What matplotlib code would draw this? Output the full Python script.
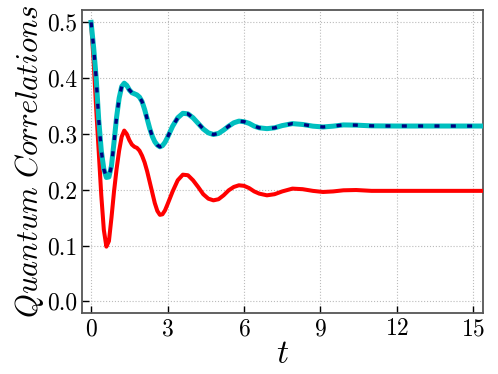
import numpy as np
import matplotlib.pyplot as plt

plt.rcParams['mathtext.fontset'] = 'cm'
plt.rcParams['font.family'] = 'serif'
plt.rcParams['font.serif'] = ['cmr10']
plt.rcParams['axes.formatter.use_mathtext'] = True

# ==== Daten ====
t = [0.0, 0.1, 0.2, 0.3, 0.4, 0.5, 0.6, 0.7, 0.8, 0.9, 1.0, 1.1, 1.2, 1.3,
     1.4, 1.5, 1.6, 1.7, 1.8, 1.9, 2.0, 2.1, 2.2, 2.3, 2.4, 2.5, 2.6, 2.7,
     2.8, 2.9, 3.0, 3.2, 3.4, 3.6, 3.8, 4.0, 4.2, 4.4, 4.6, 4.8, 5.0, 5.2,
     5.4, 5.6, 5.8, 6.0, 6.2, 6.4, 6.6, 6.9, 7.2, 7.5, 7.9, 8.3, 8.7, 9.1,
     9.5, 9.9, 10.4, 11.0, 12.0, 13.0, 14.0, 15.0, 15.5]

qc_cyan = [0.500, 0.455, 0.400, 0.325, 0.270, 0.237, 0.222, 0.223, 0.243, 0.285,
           0.330, 0.364, 0.385, 0.391, 0.387, 0.379, 0.374, 0.372, 0.370, 0.366,
           0.358, 0.344, 0.327, 0.310, 0.296, 0.286, 0.280, 0.277, 0.279, 0.285,
           0.294, 0.314, 0.329, 0.337, 0.336, 0.329, 0.319, 0.309, 0.302, 0.299,
           0.301, 0.307, 0.314, 0.320, 0.323, 0.322, 0.319, 0.314, 0.311, 0.3095,
           0.311, 0.315, 0.3185, 0.317, 0.314, 0.3125, 0.314, 0.3162, 0.3158, 0.3145,
           0.3142, 0.3142, 0.3142, 0.3142, 0.3142]

qc_red = [0.500, 0.430, 0.345, 0.268, 0.190, 0.128, 0.098, 0.108, 0.150, 0.197,
          0.237, 0.270, 0.295, 0.306, 0.300, 0.289, 0.281, 0.277, 0.275, 0.270,
          0.261, 0.249, 0.233, 0.214, 0.195, 0.176, 0.162, 0.155, 0.156, 0.163,
          0.174, 0.197, 0.217, 0.227, 0.226, 0.217, 0.205, 0.192, 0.184, 0.181,
          0.183, 0.190, 0.199, 0.205, 0.208, 0.207, 0.203, 0.197, 0.193, 0.190,
          0.192, 0.197, 0.202, 0.201, 0.198, 0.196, 0.197, 0.199, 0.1995, 0.198,
          0.198, 0.198, 0.198, 0.198, 0.198]

xticks = [0, 3, 6, 9, 12, 15]
yticks = [0.0, 0.1, 0.2, 0.3, 0.4, 0.5]

# ==== Plot ====
fig, ax = plt.subplots(figsize=(4.98, 3.74), dpi=100)
fig.subplots_adjust(left=0.165, right=0.97, top=0.973, bottom=0.163)

ax.plot(t, qc_red, color='red', lw=2.9, zorder=3)
ax.plot(t, qc_cyan, color='c', lw=3.6, zorder=4)
ax.plot(t, qc_cyan, color='navy', lw=2.4, linestyle=(0, (1.5, 3.4)), zorder=5)

ax.set_xlim(-0.35, 15.38)
ax.set_ylim(-0.021, 0.522)
ax.set_xticks(xticks)
ax.set_yticks(yticks)
ax.set_yticklabels([f'{v:.1f}' for v in yticks])

ax.grid(True, linestyle=':', color='#bbbbbb', lw=0.8)
ax.tick_params(direction='in', length=5, width=1, labelsize=17, top=False, right=False)
for sp in ax.spines.values():
    sp.set_color('#555555')
    sp.set_linewidth(1.3)

ax.set_xlabel(r'$t$', fontsize=24, labelpad=0)
ax.set_ylabel(r'$Quantum\ Correlations$', fontsize=22, labelpad=1)

plt.savefig('out.png', dpi=100)
